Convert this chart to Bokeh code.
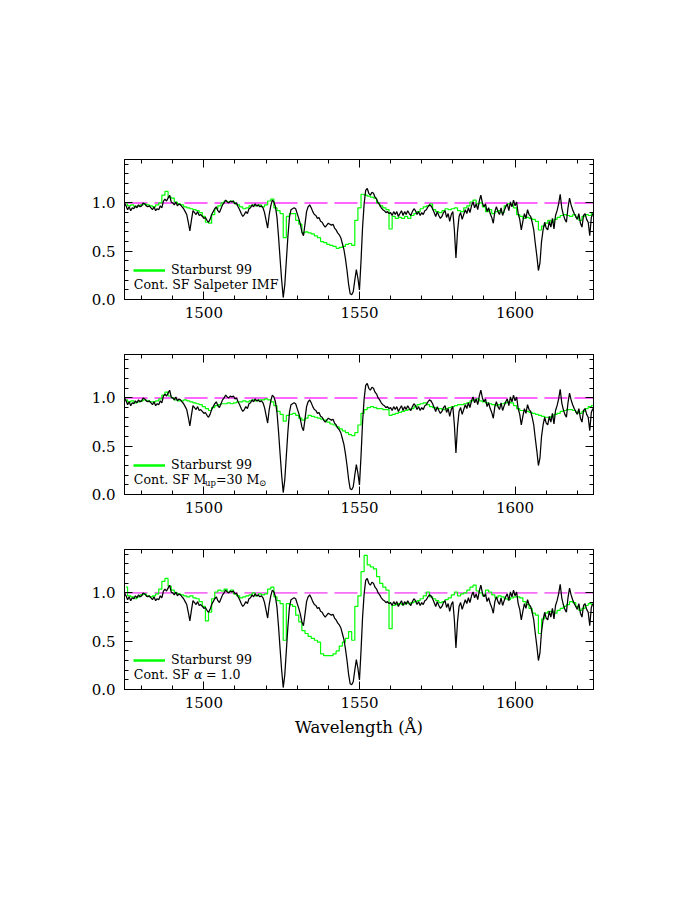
import numpy as np
from bokeh.plotting import figure
from bokeh.models import (Range1d, SingleIntervalTicker, LinearAxis, Span, Label,
                          Legend, LegendItem, PrintfTickFormatter, CustomLabelingPolicy)
from bokeh.layouts import column
from bokeh.embed import file_html
from bokeh.resources import INLINE

# ---------------- data ----------------
# Observed spectrum: 0.5 A sampling starting at 1474.5 A
obs_start = 1474.5
obs_step = 0.5
obs_flux = [
    1.00, 0.97, 0.93, 0.96, 0.92, 0.95, 0.94, 0.97, 0.95, 0.98,
    0.96, 0.97, 1.00, 0.99, 0.97, 0.96, 0.97, 0.95, 0.93, 0.96,
    0.92, 0.94, 0.93, 0.97, 0.95, 1.02, 1.04, 1.02, 1.05, 1.08,
    1.01, 1.00, 0.98, 1.01, 0.97, 0.99, 0.98, 0.96, 0.94, 0.91,
    0.88, 0.80, 0.71, 0.82, 0.92, 0.90, 0.88, 0.91, 0.87, 0.88,
    0.86, 0.84, 0.85, 0.82, 0.80, 0.83, 0.88, 0.91, 0.94, 0.96,
    0.92, 0.90, 0.94, 0.98, 1.00, 1.03, 1.01, 1.00, 1.02, 1.01,
    1.02, 0.99, 1.00, 0.96, 0.93, 0.89, 0.86, 0.88, 0.91, 0.89,
    0.94, 0.95, 0.98, 0.96, 0.99, 0.97, 0.98, 0.96, 0.97, 0.95,
    0.90, 0.82, 0.74, 0.88, 0.97, 1.03, 1.01, 0.96, 0.85, 0.65,
    0.42, 0.20, 0.02, 0.15, 0.40, 0.65, 0.85, 0.93, 0.94, 0.95,
    0.94, 0.89, 0.84, 0.78, 0.70, 0.66, 0.78, 0.91, 0.96, 0.98,
    0.95, 0.91, 0.88, 0.87, 0.84, 0.85, 0.81, 0.80, 0.77, 0.75,
    0.77, 0.79, 0.78, 0.77, 0.78, 0.74, 0.72, 0.69, 0.67, 0.64,
    0.58, 0.52, 0.42, 0.30, 0.16, 0.06, 0.05, 0.08, 0.20, 0.31,
    0.22, 0.10, 0.40, 0.75, 0.99, 1.13, 1.15, 1.10, 1.08, 1.11,
    1.10, 1.06, 1.04, 1.00, 0.98, 0.95, 0.93, 0.92, 0.90, 0.91,
    0.89, 0.90, 0.87, 0.91, 0.88, 0.91, 0.86, 0.89, 0.92, 0.87,
    0.91, 0.88, 0.92, 0.89, 0.87, 0.91, 0.94, 0.92, 0.88, 0.91,
    0.87, 0.90, 0.88, 0.92, 0.93, 0.96, 0.98, 0.97, 0.94, 0.90,
    0.86, 0.91, 0.87, 0.84, 0.86, 0.90, 0.92, 0.85, 0.89, 0.81,
    0.88, 0.91, 0.72, 0.43, 0.70, 0.86, 0.90, 0.83, 0.88, 0.93,
    0.89, 0.95, 0.90, 0.97, 1.01, 0.95, 0.99, 0.93, 1.02, 1.08,
    1.00, 0.96, 0.99, 0.91, 0.95, 0.89, 0.85, 0.79, 0.91, 0.96,
    0.91, 0.88, 0.95, 0.87, 0.92, 0.96, 0.99, 0.92, 1.01, 0.96,
    1.03, 0.97, 1.01, 0.89, 0.83, 0.72, 0.81, 0.89, 0.84, 0.93,
    0.88, 0.86, 0.80, 0.72, 0.58, 0.45, 0.30, 0.38, 0.60, 0.72,
    0.80, 0.74, 0.72, 0.81, 0.75, 0.84, 0.73, 0.87, 0.92, 0.99,
    1.09, 0.95, 0.88, 0.83, 0.80, 0.95, 1.05, 0.98, 0.93, 0.89,
    0.86, 0.83, 0.89, 0.79, 0.75, 0.87, 0.89, 0.83, 0.80, 0.66,
    0.85, 0.89,
]

# Starburst 99 models: 1 A bins centred on 1475 ... 1625 A
mod_start = 1475.0
mod_step = 1.0
sb99_salpeter = [
    0.99, 0.97, 0.98, 0.96, 0.97,
    0.98, 0.99, 0.98, 0.97, 0.96,
    0.98, 1.00, 1.08, 1.12, 1.06,
    1.05, 1.01, 0.99, 0.98, 0.96,
    0.95, 0.94, 0.93, 0.92, 0.90,
    0.86, 0.80, 0.79, 0.88, 0.94,
    0.97, 1.00, 1.02, 1.01, 1.02,
    1.00, 0.98, 0.96, 0.94, 0.95,
    0.97, 0.98, 0.97, 0.98, 0.96,
    0.98, 1.02, 1.04, 0.95, 0.92,
    0.89, 0.64, 0.86, 0.89, 0.89,
    0.82, 0.78, 0.69, 0.70, 0.69,
    0.68, 0.66, 0.64, 0.60, 0.59,
    0.57, 0.56, 0.55, 0.53, 0.54,
    0.55, 0.57, 0.58, 0.56, 0.82,
    0.95, 1.09, 1.08, 1.07, 1.06,
    1.05, 1.00, 0.97, 0.95, 0.93,
    0.73, 0.86, 0.84, 0.85, 0.84,
    0.86, 0.84, 0.87, 0.89, 0.91,
    0.94, 0.96, 0.97, 0.99, 0.93,
    0.91, 0.90, 0.92, 0.94, 0.93,
    0.94, 0.95, 0.92, 0.91, 0.95,
    0.97, 1.01, 1.03, 0.99, 1.00,
    0.96, 0.91, 0.93, 0.89, 0.91,
    0.92, 0.90, 0.97, 0.99, 0.98,
    0.95, 0.88, 0.86, 0.84, 0.85,
    0.84, 0.83, 0.81, 0.72, 0.76,
    0.79, 0.82, 0.80, 0.83, 0.85,
    0.87, 0.88, 0.87, 0.86, 0.88,
    0.85, 0.82, 0.86, 0.88, 0.87,
    0.89,
]
sb99_mup30 = [
    0.98, 0.96, 0.97, 0.95, 0.96,
    0.97, 0.98, 0.97, 0.96, 0.96,
    0.97, 0.99, 1.03, 1.06, 1.02,
    1.00, 0.98, 0.97, 0.97, 0.98,
    0.97, 0.96, 0.95, 0.94, 0.93,
    0.91, 0.89, 0.87, 0.90, 0.92,
    0.93, 0.94, 0.94, 0.95, 0.94,
    0.95, 0.96, 0.96, 0.97, 0.96,
    0.97, 0.98, 0.97, 0.98, 0.98,
    0.99, 0.98, 0.96, 0.92, 0.86,
    0.83, 0.76, 0.82, 0.83, 0.84,
    0.82, 0.79, 0.77, 0.79, 0.82,
    0.81, 0.80, 0.79, 0.78, 0.77,
    0.75, 0.73, 0.72, 0.70, 0.68,
    0.66, 0.64, 0.62, 0.61, 0.64,
    0.72, 0.84, 0.88, 0.90, 0.91,
    0.90, 0.89, 0.89, 0.88, 0.88,
    0.82, 0.83, 0.84, 0.85, 0.86,
    0.87, 0.88, 0.89, 0.91, 0.93,
    0.94, 0.95, 0.93, 0.91, 0.90,
    0.89, 0.89, 0.88, 0.89, 0.90,
    0.91, 0.92, 0.93, 0.93, 0.94,
    0.95, 0.97, 0.98, 0.99, 0.97,
    0.96, 0.95, 0.94, 0.93, 0.92,
    0.93, 0.94, 0.95, 0.96, 0.95,
    0.92, 0.89, 0.87, 0.87, 0.86,
    0.85, 0.84, 0.83, 0.82, 0.81,
    0.80, 0.80, 0.81, 0.83, 0.84,
    0.86, 0.87, 0.88, 0.88, 0.87,
    0.85, 0.84, 0.86, 0.89, 0.91,
    0.92,
]
sb99_alpha1 = [
    1.06, 0.97, 0.96, 0.94, 0.96,
    0.98, 0.99, 0.97, 0.96, 0.97,
    0.99, 1.04, 1.12, 1.15, 1.07,
    1.03, 1.00, 0.99, 0.98, 0.97,
    0.96, 0.97, 0.95, 0.94, 0.91,
    0.86, 0.71, 0.80, 0.94, 1.01,
    1.03, 1.02, 1.04, 1.01, 1.03,
    0.99, 0.97, 0.95, 0.96, 0.97,
    0.98, 1.00, 0.97, 0.99, 0.98,
    0.99, 1.04, 1.06, 0.96, 0.92,
    0.89, 0.51, 0.89, 0.88, 0.86,
    0.77, 0.70, 0.61, 0.58, 0.55,
    0.53, 0.51, 0.49, 0.37, 0.35,
    0.35, 0.35, 0.37, 0.40, 0.45,
    0.49, 0.53, 0.60, 0.51, 0.86,
    0.97, 1.22, 1.39, 1.29, 1.27,
    1.25, 1.17, 1.10, 1.06, 1.03,
    0.63, 0.87, 0.88, 0.89, 0.88,
    0.90, 0.89, 0.90, 0.91, 0.92,
    0.94, 0.97, 1.01, 0.96, 0.94,
    0.92, 0.90, 0.91, 0.93, 0.95,
    0.98, 1.01, 0.97, 0.99, 1.00,
    1.03, 1.06, 1.08, 1.02, 1.00,
    0.97, 1.03, 1.01, 0.98, 0.95,
    0.97, 0.96, 0.94, 0.93, 0.95,
    0.96, 0.96, 0.95, 0.91, 0.88,
    0.84, 0.79, 0.77, 0.58, 0.73,
    0.79, 0.81, 0.81, 0.79, 0.82,
    0.84, 0.86, 0.88, 0.91, 0.90,
    0.86, 0.82, 0.84, 0.87, 0.89,
    0.88,
]

continuum_level = 1.0
legend_label = "Starburst 99"
x_label = "Wavelength (Å)"

obs_wave = obs_start + obs_step * np.arange(len(obs_flux))
mod_wave = mod_start + mod_step * np.arange(len(sb99_salpeter))

# ---------------- styling ----------------
FONT = "DejaVu Serif"
GREEN = "#00ff00"
X0, X1 = 1474.5, 1625.2
PX_PER_A = 469.0 / (X1 - X0)
PX_PER_Y = 140.0 / 1.45
NOTE_SIZE = "12.6px"
SUB_SIZE = "8.5px"


def xpx(px):
    return X0 + px / PX_PER_A


def ypx(px):
    return px / PX_PER_Y


NO_LABELS = "for (const i of indices) indices.unset(i); return indices"


def style_axis(ax, show):
    ax.axis_line_color = "black"
    ax.axis_line_width = 1
    ax.major_tick_in = 8
    ax.major_tick_out = 0
    ax.minor_tick_in = 4
    ax.minor_tick_out = 0
    ax.major_tick_line_color = "black"
    ax.minor_tick_line_color = "black"
    ax.major_label_text_font = FONT
    ax.major_label_text_color = "black"
    ax.major_label_text_font_size = "15px"
    if not show:
        ax.major_label_policy = CustomLabelingPolicy(code=NO_LABELS)
        ax.major_label_standoff = 0


def make_panel(model, height, top, bottom, span_color, span_width, notes, xlabel=None):
    p = figure(width=673, height=height, output_backend="svg", toolbar_location=None,
               x_range=Range1d(X0, X1), y_range=Range1d(0, 1.45),
               min_border_left=124, min_border_right=80,
               min_border_top=top, min_border_bottom=bottom,
               x_axis_location=None, y_axis_location=None)
    p.grid.visible = False
    p.outline_line_color = "black"
    p.background_fill_color = "white"
    p.border_fill_color = "white"

    xb = LinearAxis(ticker=SingleIntervalTicker(interval=50, num_minor_ticks=5),
                    major_label_standoff=7)
    style_axis(xb, True)
    if xlabel:
        xb.axis_label = xlabel
        xb.axis_label_text_font = FONT
        xb.axis_label_text_font_style = "normal"
        xb.axis_label_text_font_size = "16.5px"
        xb.axis_label_text_color = "black"
        xb.axis_label_standoff = 7
    p.add_layout(xb, "below")
    xt = LinearAxis(ticker=SingleIntervalTicker(interval=50, num_minor_ticks=5))
    style_axis(xt, False)
    p.add_layout(xt, "above")
    yl = LinearAxis(ticker=SingleIntervalTicker(interval=0.5, num_minor_ticks=5),
                    formatter=PrintfTickFormatter(format="%.1f"), major_label_standoff=9)
    style_axis(yl, True)
    p.add_layout(yl, "left")
    yr = LinearAxis(ticker=SingleIntervalTicker(interval=0.5, num_minor_ticks=5))
    style_axis(yr, False)
    p.add_layout(yr, "right")

    p.add_layout(Span(location=continuum_level, dimension="width", line_color=span_color,
                      line_width=span_width, line_dash="23 7", level="underlay"))

    p.step(mod_wave, model, mode="center", line_color=GREEN, line_width=1.2)
    p.line(obs_wave, obs_flux, line_color="black", line_width=1.25)

    # legend proxy (hidden renderer, thicker sample line as in the original key)
    leg_r = p.line(mod_wave, model, line_color=GREEN, line_width=2.3, visible=False)
    leg = Legend(items=[LegendItem(label=legend_label, renderers=[leg_r])],
                 location=(9, 22), padding=0, margin=0, spacing=0,
                 glyph_width=32, glyph_height=14, label_height=14, label_standoff=6,
                 label_text_font=FONT, label_text_font_size=NOTE_SIZE,
                 label_text_color="black",
                 border_line_color=None, background_fill_alpha=0,
                 inactive_fill_alpha=0)
    p.add_layout(leg)

    for text, xoff, size, dy, fstyle in notes:
        p.add_layout(Label(x=xpx(xoff), y=ypx(14.7 - dy), text=text,
                           text_font=FONT, text_font_size=size, text_font_style=fstyle,
                           text_baseline="middle", text_color="black"))
    return p


notes1 = [("Cont. SF Salpeter IMF", 9.3, NOTE_SIZE, 0, "normal")]
notes2 = [("Cont. SF M", 9.3, NOTE_SIZE, 0, "normal"),
          ("up", 80.5, SUB_SIZE, 3.5, "normal"),
          ("=30 M", 91.5, NOTE_SIZE, 0, "normal"),
          ("⊙", 134.5, SUB_SIZE, 3.5, "normal")]
notes3 = [("Cont. SF", 9.3, NOTE_SIZE, 0, "normal"),
          ("α", 69.5, NOTE_SIZE, 0, "italic"),
          ("= 1.0", 81.5, NOTE_SIZE, 0, "normal")]

p1 = make_panel(sb99_salpeter, 329, 159, 30, "#ff66ff", 2, notes1)
p2 = make_panel(sb99_mup30, 195, 25, 30, "#ff66ff", 2, notes2)
p3 = make_panel(sb99_alpha1, 235, 25, 70, "#ee00ee", 1, notes3, xlabel=x_label)

layout = column(p1, p2, p3, spacing=0)
open("out.html", "w").write(file_html(layout, INLINE))
